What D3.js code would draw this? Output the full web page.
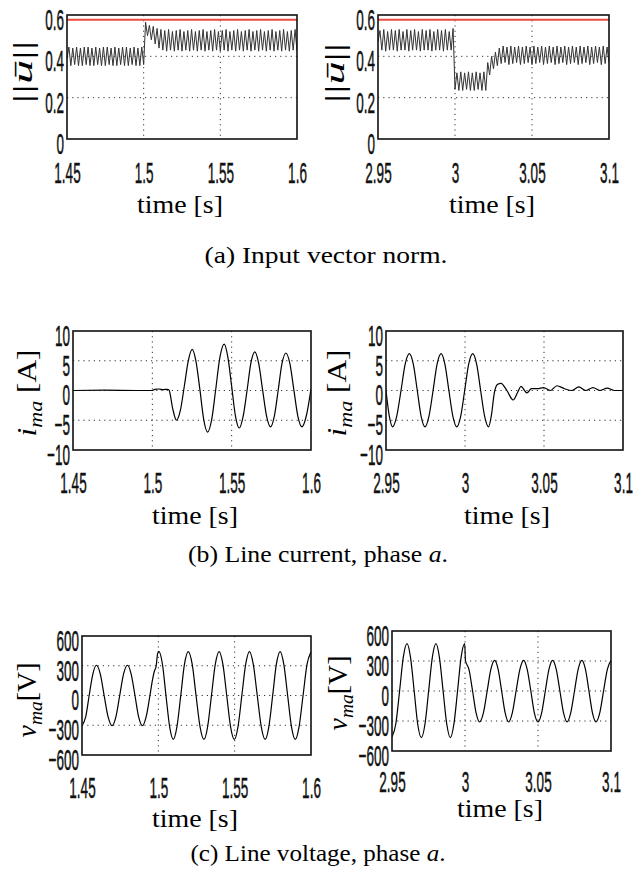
<!DOCTYPE html>
<html>
<head>
<meta charset="utf-8">
<script src="https://cdn.jsdelivr.net/npm/d3@7"></script>
<style>
  body { margin: 0; background: #fff; }
</style>
</head>
<body>
<svg id="chart" width="633" height="887"></svg>
<script>
// ---- data ----

// (a) input vector norm, sampled every 1.25 ms
const normSampleStep = 0.00125;
const normLimit = 0.577;
const normLeftStart = 1.45;
const normLeftValues = [0.39,
  0.445,0.355, 0.44,0.36, 0.445,0.355, 0.44,0.355, 0.445,0.36, 0.445,0.355, 0.44,0.355, 0.445,0.36, 0.44,0.355, 0.445,0.355,
  0.445,0.36, 0.44,0.355, 0.445,0.355, 0.44,0.36, 0.445,0.355, 0.445,0.355, 0.44,0.36, 0.445,0.355, 0.44,0.355, 0.445,0.36,
  0.565,0.50, 0.55,0.48, 0.545,0.46, 0.535,0.44, 0.53,0.43, 0.525,0.425, 0.53,0.43, 0.52,0.425, 0.525,0.43, 0.53,0.425,
  0.52,0.43, 0.525,0.425, 0.53,0.43, 0.52,0.425, 0.525,0.43, 0.53,0.425, 0.52,0.43, 0.525,0.425, 0.53,0.43, 0.52,0.425,
  0.525,0.43, 0.53,0.425, 0.52,0.43, 0.525,0.425, 0.53,0.43, 0.52,0.425, 0.525,0.43, 0.53,0.425, 0.52,0.43, 0.525,0.425,
  0.53,0.43, 0.52,0.425, 0.525,0.43, 0.53,0.425, 0.52,0.43, 0.525,0.425, 0.53,0.43, 0.52,0.425, 0.525,0.43, 0.53,0.425];
const normRightStart = 2.95;
const normRightValues = [0.47,
  0.525,0.43, 0.53,0.425, 0.52,0.43, 0.53,0.43, 0.525,0.425, 0.53,0.43, 0.52,0.43, 0.53,0.425, 0.525,0.43, 0.53,0.43,
  0.52,0.425, 0.53,0.43, 0.525,0.43, 0.53,0.425, 0.52,0.43, 0.53,0.43, 0.525,0.425, 0.53,0.43, 0.52,0.43, 0.535,0.24,
  0.32,0.235, 0.325,0.235, 0.32,0.24, 0.325,0.235, 0.32,0.235, 0.325,0.24, 0.32,0.235, 0.325,0.235,
  0.37,0.31, 0.40,0.34, 0.42,0.355, 0.44,0.365,
  0.45,0.37, 0.445,0.36, 0.45,0.365, 0.445,0.37, 0.45,0.36, 0.445,0.365, 0.45,0.37, 0.445,0.36, 0.45,0.365, 0.445,0.37,
  0.45,0.36, 0.445,0.365, 0.45,0.37, 0.445,0.36, 0.45,0.365, 0.445,0.37, 0.45,0.36, 0.445,0.365, 0.45,0.37, 0.445,0.36,
  0.45,0.365, 0.445,0.37, 0.45,0.36, 0.445,0.365, 0.45,0.37, 0.445,0.36, 0.45,0.365, 0.445,0.37];

// (b) line current, phase a
const currentLeftTime = [1.45, 1.47, 1.49, 1.5, 1.5015, 1.504, 1.507, 1.5095, 1.5105,
  1.5128, 1.5152, 1.5177, 1.5202, 1.5226, 1.5251, 1.5275, 1.53, 1.5324, 1.5348, 1.5374, 1.54,
  1.5426, 1.5453, 1.5476, 1.55, 1.5524, 1.5548, 1.5572, 1.5597, 1.5621, 1.5646, 1.567, 1.5695,
  1.572, 1.5745, 1.5769, 1.5793, 1.5817, 1.5842, 1.5867, 1.5892, 1.5917, 1.5943, 1.5971, 1.6];
const currentLeftValue = [0, 0.05, 0, 0, 0.2, 0.25, 0.15, 0.2, 0.1,
  -3.0, -5.0, -3.3, 0.8, 4.9, 6.9, 4.9, 0.1, -4.9, -7.0, -4.9, 0.3,
  5.6, 7.8, 5.6, 0.7, -4.3, -6.3, -4.4, 0, 4.6, 6.5, 4.6, 0.1,
  -4.3, -6.1, -4.3, 0, 4.5, 6.3, 4.5, 0.1, -4.3, -6.1, -4.2, 0.3];
const currentRightTime = [2.95, 2.9521, 2.9542, 2.9568, 2.9595, 2.9621, 2.9648, 2.9673, 2.9698,
  2.9722, 2.9747, 2.9772, 2.9798, 2.9823, 2.9849, 2.9873, 2.9898, 2.9923, 2.9948, 2.9973, 2.9998,
  3.0023, 3.0049, 3.0074, 3.0099, 3.0124, 3.0149, 3.0168, 3.0185, 3.0205, 3.0228, 3.0265, 3.0305,
  3.0335, 3.0354, 3.0392, 3.042, 3.046, 3.0497, 3.054, 3.0582, 3.063, 3.0675, 3.072, 3.0765,
  3.081, 3.0855, 3.09, 3.0945, 3.1];
const currentRightValue = [0, -4.3, -6.1, -4.3, 0, 4.4, 6.2, 4.4, 0,
  -4.3, -6.1, -4.3, 0, 4.4, 6.2, 4.4, 0, -4.3, -6.1, -4.3, 0,
  4.4, 6.2, 4.4, 0, -4.3, -6.1, -4.0, -0.5, 1.0, 1.2, 0, -1.6,
  -0.2, 0.7, -0.4, 0.3, 0.3, 0.5, 0, 0.8, 0.3, 0, 0.6, 0,
  0.5, 0, 0.4, 0, 0];

// (c) line voltage, phase a
const voltageLeftTime = [1.45, 1.4524, 1.4547, 1.4571, 1.4594, 1.462, 1.4645, 1.4671, 1.4697,
  1.4722, 1.4747, 1.4772, 1.4798, 1.4822, 1.4847, 1.4871, 1.4896, 1.492, 1.4945,
  1.4962, 1.4975, 1.4985, 1.4995, 1.5003, 1.5027, 1.505, 1.5074, 1.5098, 1.5122, 1.5147,
  1.5171, 1.5196, 1.5222, 1.5247, 1.5273, 1.5299, 1.5323, 1.5348, 1.5373, 1.5398, 1.5423, 1.5448,
  1.5473, 1.5498, 1.5522, 1.5547, 1.5572, 1.5597, 1.5622, 1.5648, 1.5674, 1.57, 1.5724, 1.5749,
  1.5773, 1.5798, 1.5822, 1.5847, 1.5872, 1.5897, 1.5922, 1.5948, 1.5974, 1.6];
const voltageLeftValue = [-305, -216, 0, 216, 305, 216, 0, -216, -305,
  -216, 0, 216, 305, 216, 0, -216, -305, -216, 0,
  160, 250, 290, 420, 445, 315, 0, -313, -443, -313, 0,
  313, 443, 313, 0, -313, -443, -313, 0, 313, 443, 313, 0,
  -313, -443, -313, 0, 313, 443, 313, 0, -313, -443, -313, 0,
  313, 443, 313, 0, -313, -443, -313, 0, 313, 440];
const voltageRightTime = [2.95, 2.9526, 2.9552, 2.9577, 2.9603, 2.9627, 2.9652, 2.9676, 2.9701,
  2.9726, 2.9751, 2.9776, 2.9801, 2.9825, 2.985, 2.9875, 2.99, 2.9924, 2.9949, 2.9973, 2.9998,
  3.0003, 3.0027, 3.0052, 3.0076, 3.01, 3.0126, 3.0152, 3.0177, 3.0203, 3.0227, 3.0251,
  3.0275, 3.0299, 3.0324, 3.035, 3.0376, 3.0402, 3.0426, 3.0451, 3.0475, 3.05, 3.0525, 3.055,
  3.0575, 3.06, 3.0625, 3.065, 3.0675, 3.0699, 3.0724, 3.075, 3.0775, 3.0801, 3.0825, 3.0849,
  3.0873, 3.0897, 3.0923, 3.0949, 3.0975, 3.1];
const voltageRightValue = [-460, -330, 0, 334, 473, 334, 0, -330, -467,
  -330, 0, 334, 473, 334, 0, -330, -467, -330, 0, 334, 473,
  305, 216, 0, -219, -310, -219, 0, 217, 307, 217, 0,
  -219, -310, -219, 0, 217, 307, 217, 0, -219, -310, -219, 0,
  217, 307, 217, 0, -219, -310, -219, 0, 217, 307, 217, 0,
  -219, -310, -219, 0, 217, 307];

// axis ticks
const timeTicksLeft = [1.45, 1.5, 1.55, 1.6];
const timeTicksRight = [2.95, 3, 3.05, 3.1];
const normTicks = [0, 0.2, 0.4, 0.6];
const currentTicks = [-10, -5, 0, 5, 10];
const voltageTicks = [-600, -300, 0, 300, 600];

const captions = ["(a) Input vector norm.", "(b) Line current, phase ", "(c) Line voltage, phase "];

// ---- drawing ----
const svg = d3.select("#chart");
const tickFont = "Liberation Sans, Arimo, Arial, DejaVu Sans, sans-serif";
const serif = "Liberation Serif, Tinos, Times New Roman, DejaVu Serif, serif";
const fmt = d => d < 0 ? "\u2212" + Math.abs(d) : String(d);

function sampled(start, values) {
  return values.map((v, i) => [start + i * normSampleStep, v]);
}
function paired(ts, vs) {
  return ts.map((t, i) => [t, vs[i]]);
}

let clipId = 0;
function drawPanel(p) {
  const x = d3.scaleLinear().domain(p.xDomain).range([p.left, p.right]);
  const y = d3.scaleLinear().domain(p.yDomain).range([p.bottom, p.top]);
  const g = svg.append("g");

  // dotted grid
  g.selectAll(".vg").data(p.xTicks.slice(1, -1)).enter().append("line")
    .attr("x1", d => x(d)).attr("x2", d => x(d))
    .attr("y1", p.top).attr("y2", p.bottom)
    .attr("stroke", "#333").attr("stroke-width", 1).attr("stroke-dasharray", "1.2,4");
  g.selectAll(".hg").data(p.yTicks.slice(1, -1)).enter().append("line")
    .attr("x1", p.left).attr("x2", p.right)
    .attr("y1", d => y(d)).attr("y2", d => y(d))
    .attr("stroke", "#333").attr("stroke-width", 1).attr("stroke-dasharray", "1.2,4");

  const id = "clip" + (clipId++);
  svg.append("clipPath").attr("id", id).append("rect")
    .attr("x", p.left).attr("y", p.top - 1)
    .attr("width", p.right - p.left).attr("height", p.bottom - p.top + 2);

  const plot = g.append("g").attr("clip-path", `url(#${id})`);
  if (p.limit !== undefined) {
    plot.append("line")
      .attr("x1", p.left).attr("x2", p.right)
      .attr("y1", y(p.limit)).attr("y2", y(p.limit))
      .attr("stroke", "#ec4b3f").attr("stroke-width", 2.2);
  }
  const line = d3.line().x(d => x(d[0])).y(d => y(d[1])).curve(p.curve);
  plot.append("path").datum(p.data)
    .attr("d", line)
    .attr("fill", "none")
    .attr("stroke", p.color)
    .attr("stroke-width", p.width)
    .attr("stroke-linejoin", "round");

  // frame
  g.append("rect")
    .attr("x", p.left).attr("y", p.top)
    .attr("width", p.right - p.left).attr("height", p.bottom - p.top)
    .attr("fill", "none").attr("stroke", "#111").attr("stroke-width", 1.6);

  // axes
  const xa = g.append("g").attr("transform", `translate(0,${p.bottom})`)
    .call(d3.axisBottom(x).tickValues(p.xTicks).tickFormat(fmt).tickSize(0));
  xa.select(".domain").remove();
  xa.attr("font-family", null).attr("font-size", null);
  xa.selectAll("text").attr("y", p.xLabelY).attr("dy", null)
    .attr("fill", "#111").attr("stroke", "#111").attr("stroke-width", 0.5)
    .style("font-family", tickFont).style("font-size", "30px")
    .attr("transform", "scale(0.45,1)");

  const ya = g.append("g").attr("transform", `translate(${p.left},0)`)
    .call(d3.axisLeft(y).tickValues(p.yTicks).tickFormat(fmt).tickSize(0));
  ya.select(".domain").remove();
  ya.attr("font-family", null).attr("font-size", null);
  ya.selectAll("text").attr("x", null).attr("dy", "0.48em")
    .attr("fill", "#111").attr("stroke", "#111").attr("stroke-width", 0.5)
    .style("font-family", tickFont).style("font-size", "30px")
    .attr("transform", "translate(-3,0) scale(0.45,1)");

  // time label
  svg.append("text")
    .attr("x", p.timeX).attr("y", p.timeY)
    .attr("text-anchor", "middle")
    .style("font-family", serif).style("font-size", "26px")
    .attr("textLength", 86).attr("lengthAdjust", "spacingAndGlyphs")
    .text("time [s]");

  // y label
  const yl = svg.append("text")
    .attr("transform", `translate(${p.labelX},${p.labelY}) rotate(-90)`)
    .attr("text-anchor", "middle")
    .style("font-family", serif).style("font-size", "27px")
    .attr("textLength", p.labelLen).attr("lengthAdjust", "spacingAndGlyphs");
  p.label(yl);
}

function normLabel(t) {
  t.append("tspan").text("||");
  t.append("tspan").style("font-style", "italic").text("\u016B");
  t.append("tspan").text("||");
}
function subLabel(sym, unit) {
  return t => {
    t.append("tspan").style("font-style", "italic").text(sym);
    t.append("tspan").style("font-style", "italic").style("font-size", "19px").attr("dy", 6).text("ma");
    t.append("tspan").attr("dy", -6).text(unit);
  };
}

const sharp = d3.curveLinear;
const smooth = d3.curveMonotoneX;

const panels = [
  { left: 67, right: 297, top: 15, bottom: 139, xDomain: [1.45, 1.6], yDomain: [0, 0.6],
    xTicks: timeTicksLeft, yTicks: normTicks, data: sampled(normLeftStart, normLeftValues), limit: normLimit,
    curve: sharp, color: "#333", width: 1, xLabelY: 44, timeX: 180, timeY: 213,
    labelX: 32, labelY: 72, labelLen: 63, label: normLabel },
  { left: 378, right: 609, top: 15, bottom: 139, xDomain: [2.95, 3.1], yDomain: [0, 0.6],
    xTicks: timeTicksRight, yTicks: normTicks, data: sampled(normRightStart, normRightValues), limit: normLimit,
    curve: sharp, color: "#333", width: 1, xLabelY: 44, timeX: 492, timeY: 213,
    labelX: 344, labelY: 73, labelLen: 60, label: normLabel },
  { left: 73, right: 311, top: 331, bottom: 450, xDomain: [1.45, 1.6], yDomain: [-10, 10],
    xTicks: timeTicksLeft, yTicks: currentTicks, data: paired(currentLeftTime, currentLeftValue),
    curve: smooth, color: "#000", width: 1.2, xLabelY: 43, timeX: 195, timeY: 524,
    labelX: 36, labelY: 393, labelLen: 87, label: subLabel("i", " [A]") },
  { left: 386, right: 623, top: 331, bottom: 450, xDomain: [2.95, 3.1], yDomain: [-10, 10],
    xTicks: timeTicksRight, yTicks: currentTicks, data: paired(currentRightTime, currentRightValue),
    curve: smooth, color: "#000", width: 1.2, xLabelY: 43, timeX: 507, timeY: 524,
    labelX: 346, labelY: 393, labelLen: 87, label: subLabel("i", " [A]") },
  { left: 82, right: 311, top: 636, bottom: 755, xDomain: [1.45, 1.6], yDomain: [-600, 600],
    xTicks: timeTicksLeft, yTicks: voltageTicks, data: paired(voltageLeftTime, voltageLeftValue),
    curve: smooth, color: "#000", width: 1.2, xLabelY: 43, timeX: 195, timeY: 827,
    labelX: 36, labelY: 700, labelLen: 75, label: subLabel("v", "[V]") },
  { left: 392, right: 611, top: 631, bottom: 751, xDomain: [2.95, 3.1], yDomain: [-600, 600],
    xTicks: timeTicksRight, yTicks: voltageTicks, data: paired(voltageRightTime, voltageRightValue),
    curve: smooth, color: "#000", width: 1.2, xLabelY: 41, timeX: 500, timeY: 817,
    labelX: 347, labelY: 693, labelLen: 75, label: subLabel("v", "[V]") }
];

panels.forEach(drawPanel);

// sub-figure captions
const capPos = [[326, 263, 243], [318, 562, 260], [318, 861, 255]];
captions.forEach((c, i) => {
  const t = svg.append("text")
    .attr("x", capPos[i][0]).attr("y", capPos[i][1])
    .attr("text-anchor", "middle")
    .style("font-family", serif).style("font-size", "23px")
    .attr("textLength", capPos[i][2]).attr("lengthAdjust", "spacingAndGlyphs");
  t.append("tspan").text(c);
  if (i > 0) {
    t.append("tspan").style("font-style", "italic").text("a");
    t.append("tspan").text(".");
  }
});
</script>
</body>
</html>
